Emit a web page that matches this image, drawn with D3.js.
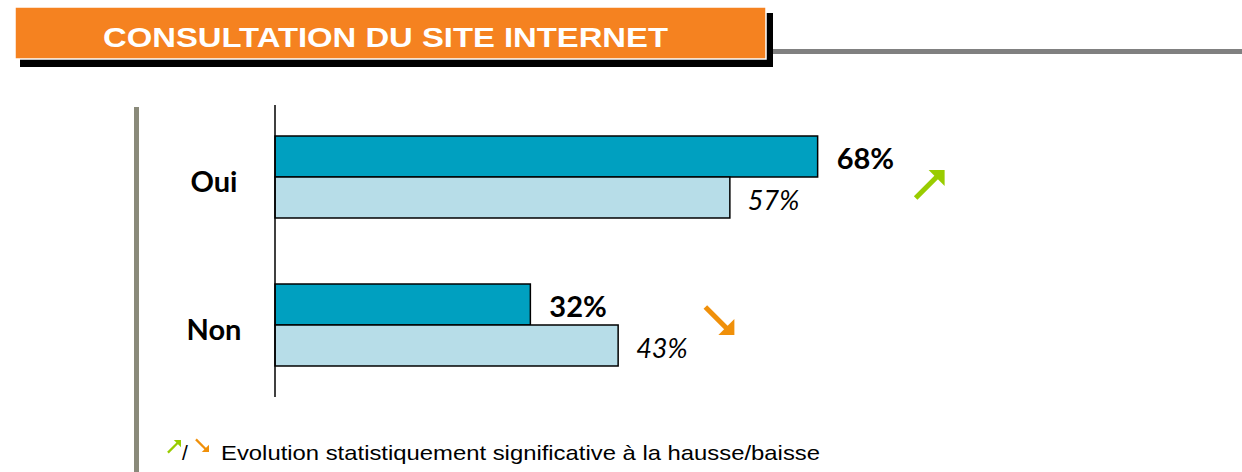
<!DOCTYPE html>
<html>
  <head>
    <meta charset="utf-8">
    <style>
      body { margin: 0; background: #fff; }
      .cat { font-family: Lato, "Open Sans", sans-serif; font-weight: bold; font-size: 29px; }
      .val { font-family: Lato, "Open Sans", sans-serif; }
      .note { font-family: "Liberation Sans", Arial, sans-serif; font-size: 21px; }
    </style>
    <script src="https://cdnjs.cloudflare.com/ajax/libs/d3/7.8.5/d3.min.js" type="text/javascript"></script>
  </head>
  <body>
    <svg width="1242" height="472" id="SVG"></svg>
    <script>
      var categories = ["Oui", "Non"];
      var series = ["current", "previous"];
      var currentValues = [68, 32];
      var previousValues = [57, 43];
      var evolution = ["up", "down"];

      var colorTable = {
        "current": "#00a0c0",
        "previous": "#b7dde8",
        "up": "#99cc00",
        "down": "#f0900a"
      };

      var svg = d3.select("#SVG");

      // header banner
      svg.append("rect").attr("x", 773).attr("y", 49).attr("width", 469).attr("height", 5).attr("fill", "#808080");
      svg.append("rect").attr("x", 20).attr("y", 13).attr("width", 753).attr("height", 54).attr("fill", "#000");
      svg.append("rect").attr("x", 15).attr("y", 7).attr("width", 751).attr("height", 52)
         .attr("fill", "#f58220").attr("stroke", "#fff").attr("stroke-width", 1.5);
      svg.append("text")
         .attr("x", 103).attr("y", 47)
         .attr("fill", "#fff")
         .attr("font-family", "'Liberation Sans', Arial, sans-serif")
         .attr("font-weight", "bold")
         .attr("font-size", 28)
         .attr("textLength", 565)
         .attr("lengthAdjust", "spacingAndGlyphs")
         .text("CONSULTATION DU SITE INTERNET");

      // left gray rule
      svg.append("rect").attr("x", 134).attr("y", 107).attr("width", 5).attr("height", 365).attr("fill", "#8a8a7a");

      var x = d3.scaleLinear().domain([0, 100]).range([275, 1073]);
      var y = d3.scaleBand().domain(categories).range([103, 399]).paddingInner(0.446).paddingOuter(0.223);
      var ySub = d3.scaleBand().domain(series).range([0, y.bandwidth()]);

      var rows = categories.map(function(c, i) {
        return { name: c, current: currentValues[i], previous: previousValues[i], evo: evolution[i] };
      });

      var groups = svg.selectAll(".row")
                      .data(rows)
                      .enter()
                      .append("g")
                      .attr("class", "row")
                      .attr("transform", function(d) { return "translate(0," + y(d.name) + ")"; });

      groups.selectAll("rect")
            .data(function(d) { return series.map(function(s) { return { key: s, value: d[s] }; }); })
            .enter()
            .append("rect")
            .attr("x", x(0))
            .attr("y", function(d) { return ySub(d.key); })
            .attr("width", function(d) { return x(d.value) - x(0); })
            .attr("height", ySub.bandwidth())
            .attr("fill", function(d) { return colorTable[d.key]; })
            .attr("stroke", "#000")
            .attr("stroke-width", 1.5);

      // value labels
      groups.append("text")
            .attr("class", "val")
            .attr("x", function(d) { return x(d.current) + 19; })
            .attr("y", ySub("current") + ySub.bandwidth() / 2 + 12.5)
            .attr("font-weight", "bold")
            .attr("font-size", 29)
            .text(function(d) { return d.current + "%"; });
      groups.append("text")
            .attr("class", "val")
            .attr("x", function(d) { return x(d.previous) + 18; })
            .attr("y", ySub("previous") + ySub.bandwidth() / 2 + 12.5)
            .attr("font-style", "italic")
            .attr("font-size", 27)
            .text(function(d) { return d.previous + "%"; });

      // category labels
      groups.append("text")
            .attr("class", "cat")
            .attr("x", 214)
            .attr("y", y.bandwidth() / 2 + 15)
            .attr("text-anchor", "middle")
            .text(function(d) { return d.name; });

      // arrow drawn with its tip at the origin, pointing up-right (mirrored for down)
      function drawArrow(sel, dir, tx, ty, k) {
        var g = sel.append("g")
                   .attr("transform", "translate(" + tx + "," + ty + ") scale(" + k + "," + (dir == "up" ? k : -k) + ")");
        g.append("line")
         .attr("x1", -29).attr("y1", 28).attr("x2", -6).attr("y2", 5)
         .attr("stroke", colorTable[dir]).attr("stroke-width", 5);
        g.append("path")
         .attr("d", "M0,0 L-16,0 L0,16 Z")
         .attr("fill", colorTable[dir]);
      }

      groups.each(function(d) {
        var g = d3.select(this);
        if (d.evo == "up") {
          drawArrow(g, "up", x(d.current) + 127, 34, 1);
        } else {
          drawArrow(g, "down", x(d.current) + 204, 51, 1);
        }
      });

      // axis line
      svg.append("line").attr("x1", x(0)).attr("x2", x(0)).attr("y1", 105).attr("y2", 397)
         .attr("stroke", "#000").attr("stroke-width", 1.5);

      // footnote
      var note = svg.append("g").attr("transform", "translate(0,460)");
      drawArrow(note, "up", 181, -20, 0.45);
      note.append("text").attr("class", "note").attr("x", 182).attr("y", 0).text("/");
      drawArrow(note, "down", 209, -8, 0.45);
      note.append("text").attr("class", "note").attr("x", 221).attr("y", 0)
          .attr("textLength", 599)
          .attr("lengthAdjust", "spacingAndGlyphs")
          .text("Evolution statistiquement significative à la hausse/baisse");
    </script>
  </body>
</html>
